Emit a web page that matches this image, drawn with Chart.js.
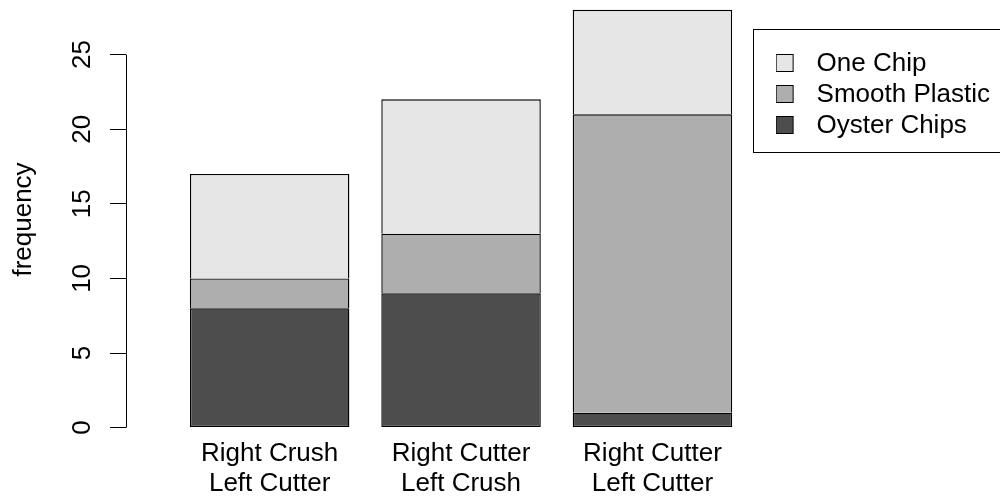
<!DOCTYPE html>
<html>
<head>
<meta charset="utf-8">
<script src="https://cdn.jsdelivr.net/npm/chart.js@4/dist/chart.umd.min.js"></script>
<style>
  html, body { margin: 0; padding: 0; background: #fff; overflow: hidden; }
  #wrap { width: 1000px; height: 500px; position: relative; }
</style>
</head>
<body>
<div id="wrap"><canvas id="c"></canvas></div>
<script>
// ---- data ----
const categories = [
  ["Right Crush", "Left Cutter"],
  ["Right Cutter", "Left Crush"],
  ["Right Cutter", "Left Cutter"]
];
const seriesNames = ["Oyster Chips", "Smooth Plastic", "One Chip"];
const oysterChips = [8, 9, 1];
const smoothPlastic = [2, 4, 20];
const oneChip = [7, 9, 7];
const yTicks = [0, 5, 10, 15, 20, 25];
const yAxisTitle = "frequency";

// ---- styles / geometry ----
const seriesColors = ["#4D4D4D", "#AEAEAE", "#E6E6E6"];
const FONT = "'Liberation Sans', Arial, Helvetica, sans-serif";
const X_UNIT_PX = 159.5;      // pixels per bar-width unit
const X_ZERO_PX = 158;        // canvas x of x = 0
const Y_UNIT_PX = 14.92;      // pixels per frequency unit
const Y_ZERO_PX = 427.6;      // canvas y of frequency 0
const BAR_SPACE = 0.2;        // R barplot default spacing
const BORDER = 1.4;
const barCentre = i => BAR_SPACE + 0.5 + i * (1 + BAR_SPACE);

Chart.defaults.font.family = FONT;
Chart.defaults.color = "#000";

function legendIcon(color) {
  const c = document.createElement("canvas");
  c.width = 28; c.height = 20;
  const g = c.getContext("2d");
  g.fillStyle = color;
  g.fillRect(0, 0, 18, 18);
  g.strokeStyle = "#000";
  g.lineWidth = 1;
  g.strokeRect(0.5, 0.5, 17, 17);
  return c;
}
const icons = seriesColors.map(legendIcon);

const seriesValues = [oysterChips, smoothPlastic, oneChip];

// map the linear scales so that R's plot geometry is reproduced
const scaleFitPlugin = {
  id: "scaleFit",
  afterLayout(chart) {
    const x = chart.scales.x, y = chart.scales.y;
    x.min = (x.left - X_ZERO_PX) / X_UNIT_PX;
    x.max = x.min + x.width / X_UNIT_PX;
    x.configure();
    y.max = (Y_ZERO_PX - y.top) / Y_UNIT_PX;
    y.min = y.max - y.height / Y_UNIT_PX;
    y.configure();
  }
};

const axisLinePlugin = {
  id: "axisLine",
  afterDraw(chart) {
    const ctx = chart.ctx;
    const y = chart.scales.y;
    const x = Math.round(chart.chartArea.left) + 0.5;
    ctx.save();
    ctx.strokeStyle = "#000";
    ctx.lineWidth = 1;
    ctx.beginPath();
    ctx.moveTo(x, y.getPixelForValue(yTicks[0]));
    ctx.lineTo(x, y.getPixelForValue(yTicks[yTicks.length - 1]));
    ctx.stroke();
    // legend frame
    const hb = chart.legend.legendHitBoxes;
    if (hb && hb.length) {
      const first = hb[0], last = hb[hb.length - 1];
      const left = Math.round(first.left) - 23 + 0.5;
      const top = Math.round(first.top) - 22 + 0.5;
      const bottom = Math.round(last.top + last.height) + 14 - 0.5;
      ctx.strokeRect(left, top, chart.width + 10 - left, bottom - top);
    }
    ctx.restore();
  }
};

new Chart(document.getElementById("c"), {
  type: "bar",
  data: {
    datasets: seriesValues.map((vals, k) => ({
      label: seriesNames[k],
      data: vals.map((v, i) => ({ x: barCentre(i), y: v })),
      backgroundColor: seriesColors[k],
      borderColor: "#000",
      borderWidth: k === 0 ? BORDER : { top: BORDER, left: BORDER, right: BORDER, bottom: 0 },
      borderSkipped: false,
      categoryPercentage: 1,
      barPercentage: 1 / (1 + BAR_SPACE)
    }))
  },
  options: {
    responsive: true,
    maintainAspectRatio: false,
    animation: false,
    events: [],
    layout: { padding: { top: 0, left: 0, right: 0, bottom: 1 } },
    scales: {
      x: {
        type: "linear",
        stacked: true,
        offset: false,
        bounds: "data",
        min: -0.2,
        max: 5.3,
        afterBuildTicks(s) {
          s.ticks = categories.map((_, i) => ({ value: barCentre(i) }));
        },
        afterFit(s) { s.paddingLeft = 0; s.paddingRight = 0; },
        ticks: {
          autoSkip: false, maxRotation: 0, minRotation: 0, padding: 0,
          font: { size: 26, lineHeight: "30px" }, color: "#000",
          callback: (v, i) => categories[i]
        },
        grid: { display: false, drawTicks: false },
        border: { display: false }
      },
      y: {
        type: "linear",
        stacked: true,
        position: "left",
        bounds: "data",
        min: -0.7,
        max: 28.6,
        afterBuildTicks(s) {
          s.ticks = yTicks.map(v => ({ value: v }));
        },
        afterFit(s) { s.width = 126; s.paddingTop = 0; s.paddingBottom = 0; },
        ticks: {
          minRotation: 90, maxRotation: 90, crossAlign: "center", padding: 13,
          font: { size: 26 }, color: "#000"
        },
        grid: { drawOnChartArea: false, drawTicks: true, tickLength: 16, color: "#000", lineWidth: 1 },
        border: { display: false },
        title: {
          display: true, text: yAxisTitle, color: "#000",
          font: { size: 26 }, padding: { top: 8, bottom: 0 }
        }
      }
    },
    plugins: {
      legend: {
        position: "right",
        align: "start",
        reverse: true,
        title: { display: true, text: "", padding: 0, font: { size: 12, lineHeight: "46px" } },
        labels: {
          usePointStyle: true,
          pointStyleWidth: 28,
          padding: 5,
          color: "#000",
          font: { size: 26 },
          generateLabels(chart) {
            const items = Chart.defaults.plugins.legend.labels.generateLabels(chart);
            items.forEach(it => { it.pointStyle = icons[it.datasetIndex]; });
            return items;
          }
        }
      },
      tooltip: { enabled: false }
    }
  },
  plugins: [scaleFitPlugin, axisLinePlugin]
});
</script>
</body>
</html>
